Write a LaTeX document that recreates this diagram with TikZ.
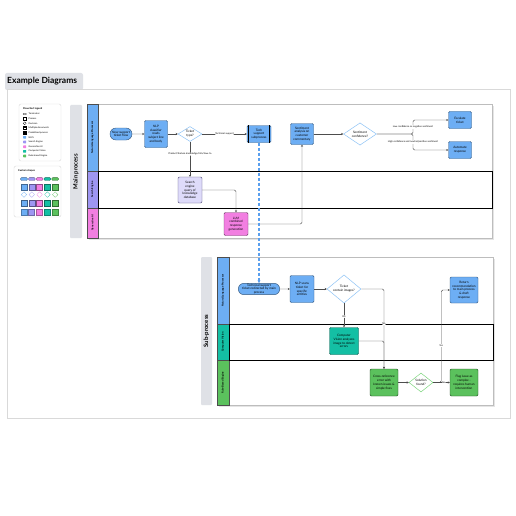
\documentclass[tikz,border=0pt]{standalone}
\usepackage{fontspec}
\setmainfont{Lato}
\usepackage{tikz}
\usetikzlibrary{arrows.meta}
\usetikzlibrary{calc,positioning}
\usetikzlibrary{shapes.geometric,shapes.misc}

\definecolor{nlpblue}{HTML}{6DAEF4}
\definecolor{nlpline}{HTML}{36597F}
\definecolor{srchpurple}{HTML}{9E96F2}
\definecolor{srchlight}{HTML}{DEDBFA}
\definecolor{genpink}{HTML}{F27FE1}
\definecolor{cvteal}{HTML}{14BFA4}
\definecolor{rulegreen}{HTML}{5BC15D}
\definecolor{bandgray}{HTML}{DFE1E6}
\definecolor{poolgray}{HTML}{BDBDBD}
\definecolor{flowgray}{HTML}{4D4D4D}
\definecolor{decblue}{HTML}{8EC3F6}
\definecolor{decgreen}{HTML}{7ED67F}
\definecolor{handoffblue}{HTML}{5A9FEE}

\begin{document}
\begin{tikzpicture}[x=1pt, y=-1pt,
        txt/.style={font=\fontsize{3.1}{3.8}\selectfont, align=center, inner sep=0.5pt},
        proc/.style={txt, rectangle, rounded corners=1.2pt, draw=nlpline, line width=0.45pt, fill=nlpblue},
        term/.style={txt, rounded rectangle, draw=nlpline, line width=0.45pt, fill=nlpblue},
        decision/.style={txt, diamond, draw=decblue, line width=0.5pt, fill=white, inner sep=0pt},
        lanehead/.style={rectangle, draw=flowgray, line width=0.4pt, rotate=90, inner sep=0pt, font=\bfseries\fontsize{2.6}{3}\selectfont},
        band/.style={rectangle, rounded corners=1pt, fill=bandgray, rotate=90, inner sep=0pt, font=\bfseries\fontsize{6}{7}\selectfont},
        flow/.style={draw=flowgray, line width=0.45pt, rounded corners=1.5pt, -{Stealth[length=2pt,width=2pt]}},
        handoff/.style={draw=handoffblue, line width=1.1pt, dash pattern=on 3pt off 2pt, -{Stealth[length=2.8pt,width=2.8pt]}},
        lbl/.style={font=\fontsize{2.4}{3}\selectfont, fill=white, inner sep=0.4pt},
        legendbox/.style={draw=black!15, fill=white, rounded corners=2pt, line width=0.4pt},
        legendtext/.style={font=\fontsize{2.3}{3}\selectfont, anchor=west, inner sep=0pt},
        legendhead/.style={font=\bfseries\fontsize{2.5}{3}\selectfont, anchor=west, inner sep=0pt}]

    \useasboundingbox (0,0) rectangle (516,516);
    \fill [white] (0,0) rectangle (516,516);

    \fill [bandgray, rounded corners=2pt] (5,73) rectangle (83,90);
    \node (title) [anchor=west, inner sep=0pt, font=\bfseries\fontsize{8.5}{10}\selectfont] at (7,81) {Example Diagrams};
    \draw [draw=black!15, fill=white, line width=0.5pt] (7,89) rectangle (510,418);

    % legend
    \draw [legendbox] (19,104) rectangle (61,161);
    \node [legendhead] at (23,109) {Flowchart legend};
    \foreach \ly/\ltxt in {114/Terminator, 118.7/Process, 123.3/Decision, 128/Multiple documents,
            132.7/Predefined process, 137.3/NLPs, 142/Search Engine, 146.7/Generative AI,
            151.3/Computer Vision, 156/Rule-based Engine}
        \node [legendtext] at (28.5,\ly) {\ltxt};
    \draw [line width=0.3pt, rounded corners=0.7pt] (23,113.3) rectangle (26.5,114.7);
    \draw [line width=0.3pt] (23.2,117.5) rectangle (26.2,119.9);
    \draw [line width=0.3pt] (24.7,121.8) -- (26.2,123.3) -- (24.7,124.8) -- (23.2,123.3) -- cycle;
    \draw [line width=0.3pt] (23.6,126.6) rectangle (26.4,128.6);
    \draw [line width=0.3pt, fill=white] (23,127.3) rectangle (25.8,129.3);
    \draw [line width=0.3pt] (23.2,131.5) rectangle (26.2,133.9);
    \draw [line width=0.5pt] (23.8,131.5) -- (23.8,133.9) (25.6,131.5) -- (25.6,133.9);
    \foreach \c/\ly in {nlpblue/137.3, srchpurple/142, genpink/146.7, cvteal/151.3, rulegreen/156}
        \fill [\c, rounded corners=0.4pt] (23.2,\ly-1.3) rectangle (26.2,\ly+1.3);

    \draw [legendbox] (14,166) rectangle (61,217);
    \node [legendhead] at (18,170.5) {Custom shapes};
    \foreach \c [count=\i] in {nlpblue, srchpurple, genpink, cvteal, rulegreen} {
        \pgfmathsetmacro{\cx}{24+(\i-1)*7.8}
        \draw [fill=\c, draw=\c!60!black, line width=0.3pt, rounded corners=1pt] (\cx-3.4,177.6) rectangle (\cx+3.4,180.4);
        \draw [fill=\c, draw=\c!60!black, line width=0.3pt] (\cx-3,184) rectangle (\cx+3,190);
        \draw [draw=\c, line width=0.35pt, dash pattern=on 0.6pt off 0.4pt] (\cx,191.8) -- (\cx+2.8,194.6) -- (\cx,197.4) -- (\cx-2.8,194.6) -- cycle;
        \draw [fill=\c, draw=\c!55!black, line width=0.6pt] (\cx-3,200) rectangle (\cx+3,206);
        \draw [fill=\c, draw=\c!70!black, line width=0.8pt] (\cx-3,209) rectangle (\cx+3,215);
    }

    % main process pool
    \fill [black!10] (89,106) rectangle (494,240);
    \draw [draw=poolgray, fill=white, line width=0.5pt] (87,104) rectangle (492,238);
    \node (mainband) [band, minimum width=133, minimum height=12] at (76,171.5) {Main\ process};
    \node (mainnlp) [lanehead, fill=nlpblue, minimum width=67, minimum height=11] at (92.5,137.5) {Natural Language Processor};
    \node (mainsearch) [lanehead, fill=srchpurple, minimum width=37, minimum height=11] at (92.5,189.5) {Search Engine};
    \node (maingen) [lanehead, fill=genpink, minimum width=30, minimum height=11] at (92.5,223) {Generative AI};
    \draw [line width=0.7pt] (98,171) rectangle (492,208);

    \node (ticketstart) [term, minimum width=23, minimum height=12] at (121,134) {New support\\ticket flow};
    \node (nlpread) [proc, minimum width=23, minimum height=27] at (156,134) {NLP\\classifier\\reads\\subject line\\and body};
    \node (typedec) [decision, minimum width=24, minimum height=15] at (190,134) {Ticket\\type?};
    \node (techsub) [proc, minimum width=24, minimum height=17] at (259,134) {Tech\\support\\subprocess};
    \draw [line width=0.6pt] ([xshift=2pt]techsub.north west) -- ([xshift=2pt]techsub.south west)
        ([xshift=-2pt]techsub.north east) -- ([xshift=-2pt]techsub.south east);
    \node (search) [proc, fill=srchlight, draw=srchpurple!50!black, minimum width=24, minimum height=26] at (190,190) {Search\\engine\\query of\\knowledge\\database};
    \node (llm) [proc, fill=genpink, draw=genpink!45!black, minimum width=24, minimum height=23] at (236,224) {LLM\\combined\\response\\generation};
    \node (sentiment) [proc, minimum width=23, minimum height=21] at (302,134) {Sentiment\\analysis on\\customer\\commentary};
    \node (sentdec) [decision, minimum width=33, minimum height=15] at (360,134) {Sentiment\\confidence?};
    \node (escalate) [proc, minimum width=23, minimum height=17] at (460,120) {Escalate\\ticket};
    \node (automate) [proc, minimum width=23, minimum height=17] at (460,150) {Automate\\response};
    \coordinate (split) at (413,134);

    \draw [flow] (ticketstart) -- (nlpread);
    \draw [flow] (nlpread) -- (typedec);
    \draw [flow] (typedec) -- node [lbl] {Technical support} (techsub);
    \draw [flow] (typedec.south) -- node [lbl, pos=0.35] {Product/feature knowledge/info/how-to} (search.north);
    \draw [flow] (search.east) -| (llm.north);
    \draw [flow] (llm.east) -| (sentiment.south);
    \draw [flow] (sentiment) -- (sentdec);
    \draw [flow] (sentdec.east) -- (split) |- (escalate.west);
    \draw [flow] (sentdec.east) -- (split) |- (automate.west);
    \node [lbl] at (413,127) {Low confidence or negative sentiment};
    \node [lbl] at (413,142) {High confidence and neutral/positive sentiment};

    % sub-process pool
    \fill [black!10] (219,259) rectangle (495,407);
    \draw [draw=poolgray, fill=white, line width=0.5pt] (217,257) rectangle (493,405);
    \node (subband) [band, minimum width=148, minimum height=11] at (206.5,331) {Sub-process};
    \node (subnlp) [lanehead, fill=nlpblue, minimum width=67, minimum height=12] at (223,290.5) {Natural Language Processor};
    \node (subcv) [lanehead, fill=cvteal, minimum width=36, minimum height=12] at (223,342) {Computer Vision};
    \node (subrule) [lanehead, fill=rulegreen, minimum width=45, minimum height=12] at (223,382.5) {Rule-Based Engine};
    \draw [line width=0.7pt] (229,324) rectangle (493,360);

    \node (subterm) [term, minimum width=37, minimum height=11] at (259,289) {Technical support\\ticket redirected by main\\process};
    \node (nlpscan) [proc, minimum width=24, minimum height=27] at (302,289) {NLP scans\\ticket for\\specific\\entities};
    \node (imgdec) [decision, minimum width=34, minimum height=19] at (344,289) {Ticket\\contain images?};
    \node (cvscan) [proc, fill=cvteal, draw=cvteal!45!black, minimum width=29, minimum height=27] at (344,341) {Computer\\Vision analyzes\\image to detect\\errors};
    \node (xref) [proc, fill=rulegreen, draw=rulegreen!40!black, minimum width=28, minimum height=27] at (384,382.5) {Cross-reference\\error with\\known issues \&\\simple fixes};
    \node (solved) [decision, draw=decgreen, minimum width=24, minimum height=19] at (421,382.5) {Solution\\found?};
    \node (recommend) [proc, minimum width=28, minimum height=26] at (464,290) {Return\\recommendation\\to main process\\\& draft\\response};
    \node (flag) [proc, fill=rulegreen, draw=rulegreen!40!black, minimum width=28, minimum height=27] at (464,382.5) {Flag issue as\\complex -\\requires human\\intervention};

    \draw [handoff] (techsub.south) -- (subterm.north);
    \draw [flow] (subterm) -- (nlpscan);
    \draw [flow] (nlpscan) -- (imgdec);
    \draw [flow] (imgdec.south) -- node [lbl, pos=0.55] {Yes} (cvscan.north);
    \draw [flow] (imgdec.east) -| node [lbl, pos=0.72] {No} (xref.north);
    \draw [flow] (cvscan.east) -| (xref.north);
    \draw [flow] (xref) -- (solved);
    \draw [flow] (solved) -- node [lbl, pos=0.65] {No} (flag);
    \draw [flow] (solved.east) -- ++(8,0) |- node [lbl, pos=0.2] {Yes} (recommend.west);
\end{tikzpicture}
\end{document}
